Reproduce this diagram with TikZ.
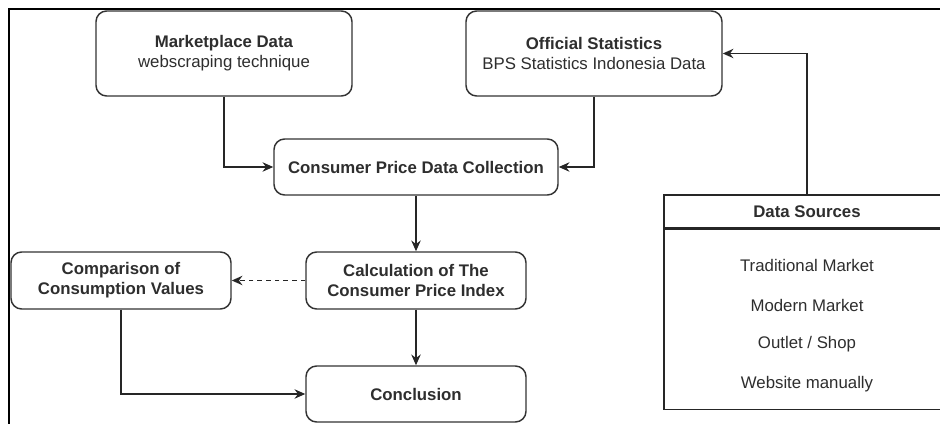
\documentclass[tikz,border=0pt]{standalone}
\usepackage{fontspec}
\setmainfont{Liberation Sans}
\usetikzlibrary{arrows.meta}

\begin{document}
\begin{tikzpicture}[x=0.75pt,y=-0.75pt,
		every node/.style={font=\fontsize{12.6}{14.8}\selectfont, text=black!82},
		box/.style={draw=black!80, line width=1.1pt, rounded corners=8pt, align=center, inner sep=0pt},
		bold/.style={box, font=\fontsize{12.6}{14.8}\selectfont\bfseries},
		plain/.style={draw=black!85, line width=1.1pt, inner sep=0pt},
		arr/.style={-{Stealth[length=8pt,width=7pt]}, line width=1.1pt, draw=black!85}]
		\clip (0,0) rectangle (940,424);
		\fill[white] (0,0) rectangle (940,424);
		\draw[line width=1.6pt] (9,440) -- (9,9) -- (960,9);
		
		\node[box, minimum width=192pt, minimum height=63.75pt] (market) at (224,53.5) {\textbf{Marketplace Data}\\webscraping technique};
		\node[box, minimum width=192pt, minimum height=63.75pt] (official) at (594,53.5) {\textbf{Official Statistics}\\BPS Statistics Indonesia Data};
		\node[bold, minimum width=213pt, minimum height=42pt] (collect) at (416,167) {Consumer Price Data Collection};
		\node[bold, minimum width=165pt, minimum height=42.75pt] (calc) at (416,280.5) {Calculation of The\\Consumer Price Index};
		\node[bold, minimum width=165pt, minimum height=42.75pt] (compare) at (121,280.5) {Comparison of\\Consumption Values};
		\node[bold, minimum width=165pt, minimum height=42pt] (concl) at (416,394) {Conclusion};
		
		\node[plain, minimum width=214.5pt, minimum height=24.75pt, font=\fontsize{12.6}{14.8}\selectfont\bfseries] (srchead) at (807,211.5) {Data Sources};
		\node[plain, minimum width=214.5pt, minimum height=135pt, anchor=north] (srcbody) at (srchead.south) {};
		\node (trad) at (807,265) {Traditional Market};
		\node (modern) at (807,305) {Modern Market};
		\node (outlet) at (807,344) {Outlet / Shop};
		\node (web) at (807,384) {Website manually};
		
		\draw[arr] (market.south) |- (collect.west);
		\draw[arr] (official.south) |- (collect.east);
		\draw[arr] (collect) -- (calc);
		\draw[arr, dash pattern=on 3.5pt off 3pt] (calc) -- (compare);
		\draw[arr] (calc) -- (concl);
		\draw[arr] (compare.south) |- (concl.west);
		\draw[arr] (srchead.north) |- (official.east);
	\end{tikzpicture}
\end{document}
